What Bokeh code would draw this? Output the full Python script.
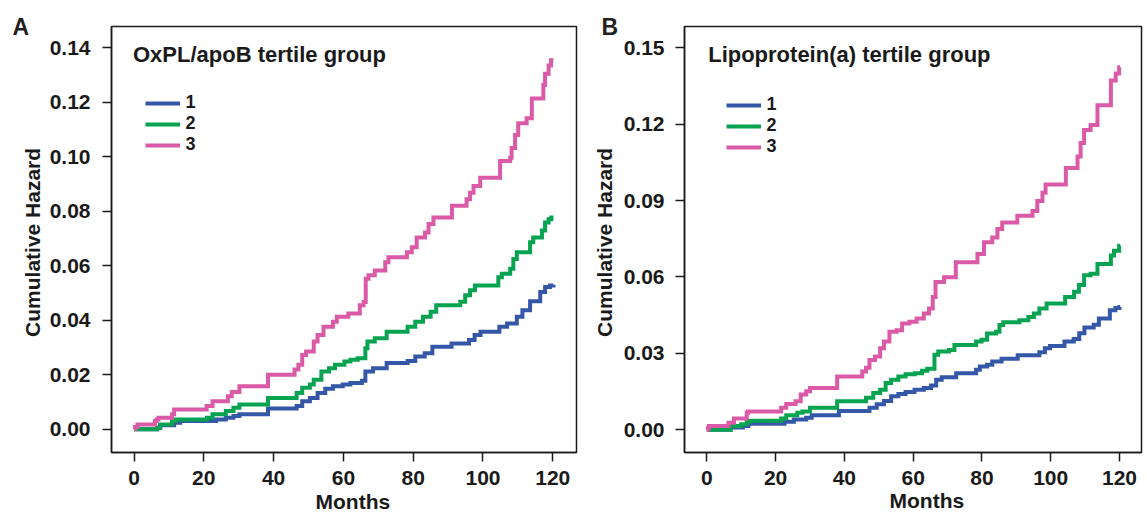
from bokeh.plotting import figure
from bokeh.layouts import row
from bokeh.models import Range1d, FixedTicker, Label, Legend, LegendItem, PrintfTickFormatter, Title
from bokeh.embed import file_html
from bokeh.resources import INLINE

# ---------------- data ----------------
x_ticks = [0, 20, 40, 60, 80, 100, 120]
left_y_ticks = [0.00, 0.02, 0.04, 0.06, 0.08, 0.10, 0.12, 0.14]
right_y_ticks = [0.00, 0.03, 0.06, 0.09, 0.12, 0.15]
groups = ["1", "2", "3"]

# Panel A: OxPL/apoB tertile groups
oxpl_g1_months = [0, 6.6, 7.5, 11.5, 13.2, 23.5, 26.3, 28.5, 30.2, 38.4, 46.6, 48.2, 50.4, 52.6, 54.8, 57.0,
                  59.8, 62.0, 65.3, 66.3, 68.5, 72.4, 78.4, 80.6, 83.3, 85.5, 91.0, 96.0, 97.6, 99.3, 104.7,
                  106.9, 109.7, 111.3, 113.5, 116.4, 117.8, 119.2, 120.2]
oxpl_g1_hazard = [0, 0.0006, 0.0015, 0.0024, 0.0030, 0.0036, 0.0042, 0.0049, 0.0055, 0.0076, 0.0085, 0.0103,
                  0.0115, 0.0133, 0.0149, 0.0158, 0.0164, 0.0170, 0.0178, 0.0212, 0.0224, 0.0243, 0.0251,
                  0.0267, 0.0279, 0.0303, 0.0315, 0.0328, 0.0346, 0.0358, 0.0376, 0.0388, 0.0413, 0.0437,
                  0.0470, 0.0504, 0.0522, 0.0528, 0.0530]

oxpl_g2_months = [0, 6.6, 7.5, 10.9, 12.0, 20.9, 22.5, 26.3, 28.5, 30.2, 38.4, 46.6, 48.2, 50.4, 51.5, 53.7,
                  55.9, 57.6, 60.3, 62.0, 64.1, 66.3, 66.9, 69.0, 72.4, 78.4, 80.6, 82.8, 85.0, 86.6, 93.5,
                  94.9, 96.3, 97.7, 104.4, 105.4, 107.8, 108.7, 109.7, 113.5, 114.4, 116.9, 117.8, 118.8,
                  119.6, 120.2]
oxpl_g2_hazard = [0, 0.0006, 0.0018, 0.0030, 0.0036, 0.0042, 0.0055, 0.0067, 0.0079, 0.0091, 0.0115, 0.0133,
                  0.0152, 0.0164, 0.0182, 0.0212, 0.0224, 0.0237, 0.0249, 0.0255, 0.0261, 0.0297, 0.0322,
                  0.0334, 0.0358, 0.0376, 0.0395, 0.0413, 0.0431, 0.0455, 0.0468, 0.0492, 0.0510, 0.0528,
                  0.0558, 0.0571, 0.0589, 0.0625, 0.0650, 0.0686, 0.0704, 0.0729, 0.0759, 0.0771, 0.0777,
                  0.0777]

oxpl_g3_months = [0, 0.3, 1.0, 6.0, 6.5, 7.0, 10.9, 11.5, 20.8, 22.5, 26.9, 28.0, 30.2, 38.4, 46.0, 47.1,
                  48.2, 49.3, 51.5, 52.6, 54.3, 57.0, 58.1, 61.4, 64.7, 65.8, 66.4, 67.2, 69.0, 72.0, 72.9,
                  78.2, 79.6, 81.0, 83.4, 84.4, 85.8, 91.1, 95.3, 96.3, 97.3, 99.2, 104.9, 107.8, 108.2,
                  109.2, 110.1, 112.5, 114.0, 117.3, 117.8, 118.8, 119.5, 120.2]
oxpl_g3_hazard = [0, 0.0008, 0.0018, 0.0030, 0.0036, 0.0042, 0.0055, 0.0073, 0.0085, 0.0103, 0.0121, 0.0137,
                  0.0158, 0.0200, 0.0219, 0.0237, 0.0273, 0.0285, 0.0322, 0.0346, 0.0376, 0.0395, 0.0413,
                  0.0425, 0.0455, 0.0467, 0.0552, 0.0565, 0.0583, 0.0613, 0.0631, 0.0650, 0.0668, 0.0704,
                  0.0722, 0.0753, 0.0777, 0.0820, 0.0844, 0.0868, 0.0893, 0.0923, 0.0984, 0.0996, 0.1032,
                  0.1080, 0.1123, 0.1141, 0.1214, 0.1263, 0.1305, 0.1335, 0.1354, 0.1354]

# Panel B: Lipoprotein(a) tertile groups
lpa_g1_months = [0, 6.9, 10.5, 12.1, 22.6, 25.3, 28.9, 30.5, 38.4, 47.3, 49.4, 51.5, 53.6, 55.7, 57.8, 60.4,
                 63.1, 65.2, 66.7, 68.3, 72.5, 78.3, 79.4, 81.5, 83.0, 85.7, 90.4, 96.7, 98.3, 99.8, 104.0,
                 106.7, 108.3, 109.8, 112.5, 114.0, 117.2, 118.8, 120.0, 120.2]
lpa_g1_hazard = [0, 0.0009, 0.0014, 0.0023, 0.0031, 0.0040, 0.0047, 0.0057, 0.0073, 0.0086, 0.0100, 0.0113,
                 0.0131, 0.0140, 0.0148, 0.0157, 0.0164, 0.0174, 0.0196, 0.0206, 0.0222, 0.0235, 0.0248,
                 0.0255, 0.0268, 0.0279, 0.0292, 0.0304, 0.0320, 0.0329, 0.0346, 0.0356, 0.0379, 0.0401,
                 0.0412, 0.0437, 0.0469, 0.0478, 0.0482, 0.0482]

lpa_g2_months = [0, 6.9, 10.0, 11.6, 12.5, 21.6, 23.1, 26.3, 27.8, 30.0, 37.9, 46.3, 48.4, 50.4, 52.0, 53.6,
                 55.7, 57.8, 60.5, 62.6, 64.1, 66.2, 67.3, 70.4, 72.0, 78.3, 79.9, 81.5, 84.1, 85.1, 86.2,
                 90.9, 93.5, 95.1, 96.7, 98.8, 104.2, 106.8, 108.2, 109.7, 111.6, 113.6, 117.5, 118.4,
                 119.9, 120.2]
lpa_g2_hazard = [0, 0.0014, 0.0021, 0.0031, 0.0035, 0.0044, 0.0057, 0.0066, 0.0071, 0.0086, 0.0112, 0.0125,
                 0.0144, 0.0157, 0.0183, 0.0196, 0.0209, 0.0218, 0.0222, 0.0231, 0.0239, 0.0294, 0.0307,
                 0.0313, 0.0333, 0.0346, 0.0353, 0.0378, 0.0385, 0.0411, 0.0422, 0.0430, 0.0443, 0.0456,
                 0.0476, 0.0496, 0.0521, 0.0542, 0.0568, 0.0607, 0.0613, 0.0651, 0.0684, 0.0703, 0.0723,
                 0.0723]

lpa_g3_months = [0, 0.3, 0.6, 6.3, 7.9, 11.6, 12.0, 21.6, 23.1, 25.8, 27.3, 28.9, 30.0, 37.9, 45.2, 46.3,
                 47.3, 48.9, 50.4, 51.5, 53.1, 55.2, 56.8, 58.9, 61.0, 63.1, 64.6, 65.7, 66.5, 69.0, 72.4,
                 78.7, 80.6, 83.0, 84.5, 85.9, 90.3, 94.7, 96.1, 97.6, 98.5, 104.4, 107.8, 108.7, 109.7,
                 111.6, 113.6, 117.5, 118.9, 119.9, 120.2]
lpa_g3_hazard = [0, 0.0006, 0.0014, 0.0027, 0.0044, 0.0066, 0.0071, 0.0086, 0.0101, 0.0112, 0.0138, 0.0151,
                 0.0164, 0.0209, 0.0229, 0.0243, 0.0274, 0.0287, 0.0320, 0.0346, 0.0385, 0.0391, 0.0417,
                 0.0424, 0.0437, 0.0456, 0.0476, 0.0521, 0.0580, 0.0599, 0.0658, 0.0690, 0.0736, 0.0755,
                 0.0788, 0.0814, 0.0840, 0.0859, 0.0898, 0.0931, 0.0963, 0.1028, 0.1073, 0.1126, 0.1177,
                 0.1197, 0.1275, 0.1372, 0.1399, 0.1424, 0.1424]

# ---------------- styling ----------------
COLORS = ["#3457a8", "#08a350", "#db5aa7"]
FONT = "Liberation Sans"
INK = "#1a1a1a"
FIG_H = 513


def make_panel(width, borders, xr, yr, yticks, series, title, letter, title_pos, letter_offset,
               letter_standoff, legend_loc, ylab_standoff, ylab_axis_standoff, months_offset,
               months_standoff):
    bl, br, bt, bb = borders
    p = figure(width=width, height=FIG_H, x_range=Range1d(*xr), y_range=Range1d(*yr),
               output_backend="svg", toolbar_location=None, title=letter,
               min_border_left=bl, min_border_right=br, min_border_top=bt, min_border_bottom=bb)
    p.grid.visible = False
    p.outline_line_color = INK
    p.outline_line_width = 1.5
    p.background_fill_color = "white"
    p.border_fill_color = "white"

    # panel letter (A / B) as the figure title, pulled to the left edge
    p.title.align = "left"
    p.title.offset = letter_offset
    p.title.standoff = letter_standoff
    p.title.text_font = FONT
    p.title.text_font_size = "23px"
    p.title.text_font_style = "bold"
    p.title.text_color = "#231f20"

    for ax in (p.xaxis[0], p.yaxis[0]):
        ax.axis_line_color = INK
        ax.axis_line_width = 1.5
        ax.major_tick_line_color = INK
        ax.major_tick_line_width = 1.5
        ax.major_tick_out = 9
        ax.major_tick_in = 0
        ax.minor_tick_line_color = None
        ax.major_label_text_font = FONT
        ax.major_label_text_font_size = "21px"
        ax.major_label_text_font_style = "bold"
        ax.major_label_text_color = INK
        ax.axis_label_text_font = FONT
        ax.axis_label_text_font_size = "21px"
        ax.axis_label_text_font_style = "bold"
        ax.axis_label_text_color = INK

    p.xaxis.ticker = FixedTicker(ticks=x_ticks)
    p.xaxis.axis_label = None
    p.xaxis.major_label_standoff = 9

    # x-axis title as a "below" title so it can sit close to the page bottom
    months = Title(text="Months", align="left", offset=months_offset, standoff=months_standoff,
                   vertical_align="bottom", text_font=FONT, text_font_size="21px",
                   text_font_style="bold", text_color=INK)
    p.add_layout(months, "below")

    p.yaxis.ticker = FixedTicker(ticks=yticks)
    p.yaxis.formatter = PrintfTickFormatter(format="%.2f")
    p.yaxis.axis_label = "Cumulative  Hazard"
    p.yaxis.major_label_standoff = ylab_standoff
    p.yaxis.axis_label_standoff = ylab_axis_standoff

    items = []
    for (months_v, hazard), color, name in zip(series, COLORS, groups):
        r = p.step(months_v, hazard, mode="after", line_color=color, line_width=4, line_join="miter")
        items.append(LegendItem(label=name, renderers=[r]))

    legend = Legend(items=items, location=legend_loc, orientation="vertical",
                    glyph_width=35, glyph_height=20, label_height=20, spacing=-1,
                    padding=0, margin=0, label_standoff=6,
                    background_fill_alpha=0, border_line_alpha=0,
                    label_text_font=FONT, label_text_font_size="18px",
                    label_text_font_style="bold", label_text_color=INK)
    p.add_layout(legend)

    p.add_layout(Label(x=title_pos[0], y=title_pos[1], text=title, text_font=FONT,
                       text_font_size="22px", text_font_style="bold", text_color=INK,
                       text_baseline="alphabetic", text_align="left"))
    return p


pA = make_panel(589, (111, 13, 23, 61), (-6.45, 126.8), (-0.00852, 0.1478), left_y_ticks,
                [(oxpl_g1_months, oxpl_g1_hazard), (oxpl_g2_months, oxpl_g2_hazard),
                 (oxpl_g3_months, oxpl_g3_hazard)],
                "OxPL/apoB tertile group", "A", (-0.3, 0.1375), -99, -26,
                (33.5, 297.0), 12, 3, 204, 1)

pB = make_panel(558, (95, 6, 26, 58), (-6.49, 126.4), (-0.00897, 0.1584), right_y_ticks,
                [(lpa_g1_months, lpa_g1_hazard), (lpa_g2_months, lpa_g2_hazard),
                 (lpa_g3_months, lpa_g3_hazard)],
                "Lipoprotein(a) tertile group", "B", (0.4, 0.1473), -83, -26,
                (41.5, 295.0), 11, 5, 205, -1)

layout = row(pA, pB)
open("out.html", "w").write(file_html(layout, INLINE))
